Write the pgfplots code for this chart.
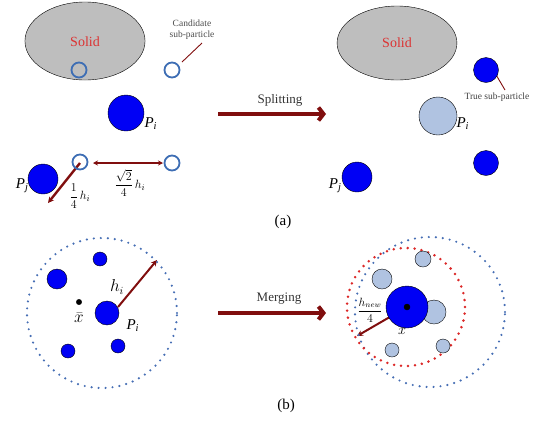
\documentclass[border=0pt]{standalone}
\usepackage{fontspec}
\setmainfont{Liberation Serif}
\usepackage{pgfplots}
\pgfplotsset{compat=1.18}
\usetikzlibrary{arrows.meta}
\definecolor{dred}{RGB}{128,14,14}
\definecolor{pblue}{RGB}{0,0,245}
\definecolor{lblue}{RGB}{176,195,225}
\definecolor{sblue}{RGB}{62,110,180}
\definecolor{dblue}{RGB}{70,110,180}
\definecolor{rdot}{RGB}{220,40,40}
\definecolor{solidgray}{RGB}{190,190,190}
\definecolor{solidred}{RGB}{220,50,50}
\begin{document}
\begin{tikzpicture}
\begin{axis}[x=1bp, y=1bp, xmin=0, xmax=549, ymin=0, ymax=424, y dir=reverse,
  hide axis, clip=false, scale only axis]
\coordinate (SW) at (rel axis cs:0,0);
\coordinate (NE) at (rel axis cs:1,1);
% text anchor coordinates
\coordinate (tSolidL) at (axis cs:85,42);
\coordinate (tSolidR) at (axis cs:397,43);
\coordinate (tCand) at (axis cs:192,23);
\coordinate (tSub) at (axis cs:192,35);
\coordinate (tPiL) at (axis cs:141,124);
\coordinate (tPjL) at (axis cs:32,186);
\coordinate (tSq) at (axis cs:130,183);
\coordinate (tQu) at (axis cs:80,196);
\coordinate (tSplit) at (axis cs:280,100);
\coordinate (tTrue) at (axis cs:461,97);
\coordinate (tPiR) at (axis cs:453,124);
\coordinate (tPjR) at (axis cs:345,186);
\coordinate (ta) at (axis cs:283,222);
\coordinate (txbar) at (axis cs:79,318);
\coordinate (thi) at (axis cs:117,287);
\coordinate (tPiB) at (axis cs:123,326);
\coordinate (tMerge) at (axis cs:279,299);
\coordinate (thnew) at (axis cs:370,310);
\coordinate (tx) at (axis cs:402,331);
\coordinate (tb) at (axis cs:286,406);
% ---------- (a) solids
\addplot[only marks, mark=*, mark size=39bp, mark options={draw=none, fill=solidgray, xscale=1.54}] coordinates {(85,41)};
\addplot[only marks, mark=*, mark size=37bp, mark options={draw=none, fill=solidgray, xscale=1.62}] coordinates {(397,43)};
% candidate sub-particles
\addplot[only marks, mark=o, mark size=7.5bp, mark options={draw=sblue, line width=1.8bp}] coordinates {(79,70) (172,70) (80,162) (172,163)};
\addplot[dred, line width=0.9bp, mark=none] coordinates {(182,62) (202,43)};
% P_i, P_j left
\addplot[only marks, mark=*, mark size=18bp, mark options={draw=none, fill=pblue}] coordinates {(126,113)};
\addplot[only marks, mark=*, mark size=15bp, mark options={draw=none, fill=pblue}] coordinates {(43,179)};
% distance arrows
\addplot[{Stealth[length=5bp,width=5bp]}-{Stealth[length=5bp,width=5bp]}, dred, line width=1.6bp, mark=none] coordinates {(93,163) (163,163)};
\addplot[-{Stealth[length=6bp,width=6bp]}, dred, line width=2.4bp, mark=none] coordinates {(80,163) (48,203)};
% Splitting arrow
\addplot[-{Straight Barb[length=5bp,width=13bp]}, dred, line width=4bp, mark=none] coordinates {(218,114) (326,114)};
% right (a)
\addplot[only marks, mark=*, mark size=12.5bp, mark options={draw=none, fill=pblue}] coordinates {(486,70) (486,163)};
\addplot[dred, line width=0.9bp, mark=none] coordinates {(495,73) (505,90)};
\addplot[only marks, mark=*, mark size=19bp, mark options={draw=none, fill=lblue}] coordinates {(438,116)};
\addplot[only marks, mark=*, mark size=15bp, mark options={draw=none, fill=pblue}] coordinates {(357,177)};
% ---------- (b) left
\addplot[only marks, mark=o, mark size=75bp, mark options={draw=dblue, line width=2.4bp, dash pattern=on 0bp off 7bp, line cap=round}] coordinates {(102,313)};
\addplot[only marks, mark=*, mark size=7bp, mark options={draw=none, fill=pblue}] coordinates {(100,259) (68,351) (118,346)};
\addplot[only marks, mark=*, mark size=10bp, mark options={draw=none, fill=pblue}] coordinates {(57,279)};
\addplot[only marks, mark=*, mark size=12bp, mark options={draw=none, fill=pblue}] coordinates {(107,313)};
\addplot[only marks, mark=*, mark size=2.7bp, mark options={draw=none, fill=black}] coordinates {(79,302)};
\addplot[-{Stealth[length=6bp,width=6bp]}, dred, line width=2bp, mark=none] coordinates {(118,307) (157,260)};
% Merging arrow
\addplot[-{Straight Barb[length=5bp,width=13bp]}, dred, line width=4bp, mark=none] coordinates {(218,313) (326,313)};
% (b) right
\addplot[only marks, mark=o, mark size=75bp, mark options={draw=dblue, line width=2.4bp, dash pattern=on 0bp off 7bp, line cap=round}] coordinates {(430,312)};
\addplot[only marks, mark=o, mark size=59bp, mark options={draw=rdot, line width=2.8bp, dash pattern=on 0bp off 7bp, line cap=round}] coordinates {(406,307)};
\addplot[only marks, mark=*, mark size=8bp, mark options={draw=none, fill=lblue}] coordinates {(423,259)};
\addplot[only marks, mark=*, mark size=10bp, mark options={draw=none, fill=lblue}] coordinates {(382,279)};
\addplot[only marks, mark=*, mark size=12bp, mark options={draw=none, fill=lblue}] coordinates {(434,312)};
\addplot[only marks, mark=*, mark size=7bp, mark options={draw=none, fill=lblue}] coordinates {(392,350) (443,346)};
\addplot[only marks, mark=*, mark size=21bp, mark options={draw=none, fill=pblue}] coordinates {(407,307)};
\addplot[only marks, mark=*, mark size=3bp, mark options={draw=none, fill=black}] coordinates {(407,307)};
\addplot[-{Stealth[length=6bp,width=6bp]}, dred, line width=2bp, mark=none] coordinates {(407,307) (357,336)};
\end{axis}
% ---------- text
\node[font=\fontsize{14bp}{16bp}\selectfont, text=solidred] at (tSolidL) {Solid};
\node[font=\fontsize{14bp}{16bp}\selectfont, text=solidred] at (tSolidR) {Solid};
\node[font=\fontsize{9.5bp}{11bp}\selectfont, text=black!70] at (tCand) {Candidate};
\node[font=\fontsize{9.5bp}{11bp}\selectfont, text=black!70] at (tSub) {sub-particle};
\node[anchor=west, font=\fontsize{15bp}{17bp}\selectfont] at (tPiL) {\itshape P\textsubscript{i}};
\node[anchor=east, font=\fontsize{15bp}{17bp}\selectfont] at (tPjL) {\itshape P\textsubscript{j}};
\node[font=\fontsize{12.5bp}{14bp}\selectfont] at (tSq) {$\displaystyle\frac{\sqrt{2}}{4}\,h_i$};
\node[font=\fontsize{12.5bp}{14bp}\selectfont] at (tQu) {$\displaystyle\frac{1}{4}\,h_i$};
\node[font=\fontsize{13bp}{15bp}\selectfont, text=black!80] at (tSplit) {Splitting};
\node[anchor=west, font=\fontsize{9.5bp}{11bp}\selectfont, text=black!75] at (tTrue) {True sub-particle};
\node[anchor=west, font=\fontsize{15bp}{17bp}\selectfont] at (tPiR) {\itshape P\textsubscript{i}};
\node[anchor=east, font=\fontsize{15bp}{17bp}\selectfont] at (tPjR) {\itshape P\textsubscript{j}};
\node[font=\fontsize{15bp}{17bp}\selectfont] at (ta) {(a)};
\node[font=\fontsize{16bp}{18bp}\selectfont] at (txbar) {$\bar{x}$};
\node[font=\fontsize{16bp}{18bp}\selectfont] at (thi) {$h_i$};
\node[anchor=west, font=\fontsize{15bp}{17bp}\selectfont] at (tPiB) {\itshape P\textsubscript{i}};
\node[font=\fontsize{13bp}{15bp}\selectfont, text=black!80] at (tMerge) {Merging};
\node[font=\fontsize{11.5bp}{13bp}\selectfont] at (thnew) {$\displaystyle\frac{h_{new}}{4}$};
\node[font=\fontsize{15bp}{17bp}\selectfont] at (tx) {$x$};
\node[font=\fontsize{15bp}{17bp}\selectfont] at (tb) {(b)};
\pgfresetboundingbox
\path (SW) rectangle (NE);
\end{tikzpicture}
\end{document}
